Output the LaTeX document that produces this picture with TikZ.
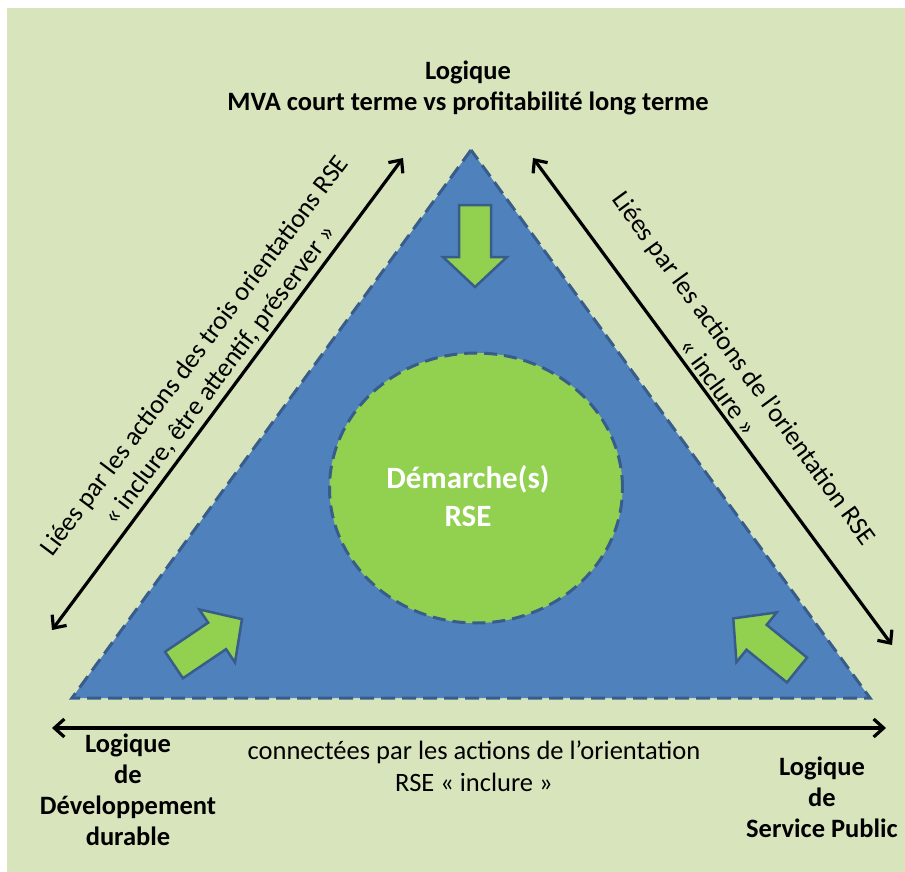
\documentclass[tikz,border=0pt]{standalone}
\usepackage{fontspec}
\setmainfont{Carlito}
\usetikzlibrary{arrows.meta,shapes.geometric}
\definecolor{fond}{HTML}{D8E4BC}
\definecolor{bleu}{HTML}{4F81BD}
\definecolor{bleufonce}{HTML}{385D8A}
\definecolor{vert}{HTML}{92D050}
\tikzset{
  logique/.style={font=\bfseries\fontsize{26.5}{31}\selectfont, align=center, inner sep=0pt},
  lien/.style={font=\fontsize{26.5}{32}\selectfont, align=center, inner sep=0pt},
  fleche/.style={<->, line width=3.2pt, >={Straight Barb[length=10pt,width=18pt]}},
  poussee/.style={fill=vert, draw=bleufonce, line width=2.5pt, line join=miter},
  cercle/.style={ellipse, fill=vert, draw=bleufonce, line width=3pt,
    dash pattern=on 13pt off 7pt, minimum width=293pt, minimum height=270pt},
}
\newcommand{\blocfleche}[3]{%
  \draw[poussee, shift={(#1,#2)}, rotate=#3]
    (0,-16) -- (52,-16) -- (52,-32) -- (82,0) -- (52,32) -- (52,16) -- (0,16) -- cycle;}
\begin{document}
\begin{tikzpicture}[x=1pt, y=-1pt]
  \useasboundingbox (0,0) rectangle (905,872);
  \fill[white] (0,0) rectangle (905,872);
  \fill[fond] (7,8) rectangle (905,872);
  \coordinate (sommet) at (471,150);
  \coordinate (coinG) at (72,698);
  \coordinate (coinD) at (870,698);
  \draw[fill=bleu, draw=bleufonce, line width=3pt, dash pattern=on 14pt off 7pt]
    (sommet) -- (coinG) -- (coinD) -- cycle;
  \node[cercle] (demarche) at (476,488) {};
  \node[font=\bfseries\fontsize{31}{38}\selectfont, text=white, align=center, inner sep=0pt]
    (rse) at (468,496) {Démarche(s)\\RSE};
  \blocfleche{475}{205}{-90}
  \blocfleche{174}{665}{34}
  \blocfleche{797}{670}{141}
  \node[logique] (mva) at (468,88) {Logique\\MVA court terme vs profitabilité long terme};
  \node[logique] (dd) at (128,790) {Logique\\de\\Développement\\durable};
  \node[logique] (sp) at (822,797) {Logique\\de\\Service Public};
  \node[lien, rotate=53] (gauche) at (208,366)
    {Liées par les actions des trois orientations RSE\\« inclure, être attentif, préserver »};
  \node[lien, rotate=-54] (droite) at (732,377)
    {Liées par les actions de l’orientation RSE\\« inclure »};
  \node[lien] (bas) at (474,766) {connectées par les actions de l’orientation\\RSE « inclure »};
  \coordinate (g1) at (52,630);
  \coordinate (g2) at (403,158);
  \coordinate (d1) at (533,158);
  \coordinate (d2) at (892,645);
  \coordinate (b1) at (52,728);
  \coordinate (b2) at (886,728);
  \begin{scope}[fleche]
    \draw (g1) to (g2);
    \draw (d1) to (d2);
    \draw (b1) to (b2);
  \end{scope}
\end{tikzpicture}
\end{document}
